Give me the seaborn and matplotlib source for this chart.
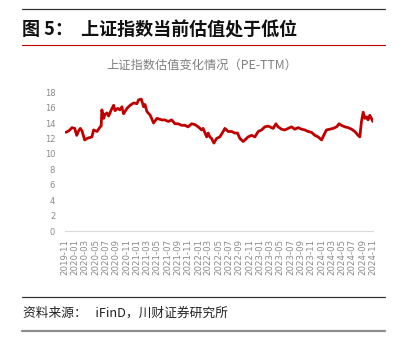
import matplotlib
matplotlib.use("Agg")
import matplotlib.pyplot as plt
import matplotlib.dates as mdates
from matplotlib.lines import Line2D
import pandas as pd
import seaborn as sns

# ---- data ----
dates = [
    "2019-11-07", "2019-11-25", "2019-12-13", "2019-12-29", "2020-01-10", "2020-01-19",
    "2020-01-31", "2020-02-10", "2020-02-26", "2020-03-11", "2020-03-25", "2020-04-09",
    "2020-04-19", "2020-05-09", "2020-05-28", "2020-06-03", "2020-06-07", "2020-06-18",
    "2020-06-25", "2020-07-07", "2020-07-17", "2020-08-02", "2020-08-16", "2020-08-24",
    "2020-09-09", "2020-09-22", "2020-10-04", "2020-10-14", "2020-11-03", "2020-11-22",
    "2020-12-13", "2021-01-01", "2021-01-11", "2021-01-27", "2021-02-10", "2021-02-18",
    "2021-03-01", "2021-03-21", "2021-04-10", "2021-04-30", "2021-05-29", "2021-06-16",
    "2021-07-06", "2021-07-26", "2021-08-15", "2021-09-03", "2021-09-23", "2021-10-13",
    "2021-11-01", "2021-11-22", "2021-12-11", "2021-12-31", "2022-01-20", "2022-01-29",
    "2022-02-19", "2022-02-28", "2022-03-10", "2022-03-20", "2022-04-03", "2022-04-19",
    "2022-05-08", "2022-05-28", "2022-06-07", "2022-06-27", "2022-07-17", "2022-08-05",
    "2022-08-21", "2022-09-04", "2022-09-24", "2022-10-04", "2022-10-23", "2022-11-13",
    "2022-12-02", "2022-12-22", "2023-01-11", "2023-01-30", "2023-02-19", "2023-03-01",
    "2023-03-21", "2023-04-06", "2023-04-19", "2023-05-09", "2023-05-29", "2023-06-18",
    "2023-07-08", "2023-07-27", "2023-08-16", "2023-09-05", "2023-09-25", "2023-10-14",
    "2023-11-03", "2023-11-23", "2023-12-13", "2024-01-02", "2024-01-15", "2024-01-31",
    "2024-02-20", "2024-03-11", "2024-03-31", "2024-04-15", "2024-04-29", "2024-05-19",
    "2024-06-08", "2024-06-28", "2024-07-17", "2024-08-06", "2024-08-16", "2024-08-26",
    "2024-09-05", "2024-09-15", "2024-09-25", "2024-10-04", "2024-10-14", "2024-10-24",
    "2024-11-01",
]
pe_ttm = [
    12.8, 13.0, 13.4, 13.3, 12.4, 12.9,
    13.3, 13.0, 11.8, 12.0, 12.1, 12.2,
    13.1, 12.9, 13.5, 13.6, 15.7, 14.6,
    15.1, 15.3, 14.9, 15.7, 16.3, 15.6,
    15.9, 15.7, 16.1, 15.2, 15.9, 16.3,
    16.6, 16.5, 17.0, 17.1, 16.1, 16.4,
    15.5, 15.0, 14.0, 14.6, 14.4, 14.4,
    14.2, 14.4, 13.9, 13.9, 13.7, 13.7,
    13.5, 13.9, 13.8, 13.5, 13.1, 13.3,
    12.2, 12.7, 12.2, 12.0, 11.4, 12.0,
    12.2, 12.9, 13.3, 12.9, 12.9, 12.7,
    12.7, 12.0, 11.6, 11.8, 12.2, 12.4,
    12.2, 12.9, 13.1, 13.5, 13.6, 13.5,
    13.3, 13.9, 13.5, 13.2, 13.1, 13.3,
    13.5, 13.2, 13.4, 13.2, 13.1, 12.9,
    12.8, 12.4, 12.2, 11.8, 12.4, 13.1,
    13.2, 13.3, 13.5, 13.9, 13.7, 13.5,
    13.4, 13.2, 12.9, 12.4, 12.2, 14.2,
    15.4, 14.6, 14.8, 14.4, 15.0, 14.6,
    14.2,
]
y_ticks = [0, 2, 4, 6, 8, 10, 12, 14, 16, 18]
x_start = "2019-11-01"
x_end = "2024-11-01"

fig_title = "图 5：  上证指数当前估值处于低位"
chart_title = "上证指数估值变化情况（PE-TTM）"
source_text = "资料来源：   iFinD，川财证券研究所"

# ---- style ----
sns.set_style("white")
plt.rcParams["font.family"] = ["Noto Sans CJK SC", "DejaVu Sans"]

df = pd.DataFrame({"date": pd.to_datetime(dates), "pe": pe_ttm})

fig = plt.figure(figsize=(4.06, 3.49), dpi=100)
ax = fig.add_axes([0.160, 0.338, 0.759, 0.398])

sns.lineplot(data=df, x="date", y="pe", ax=ax, color="#c00000", linewidth=2.0)

ax.set_xlim(pd.Timestamp(x_start), pd.Timestamp("2024-11-03"))
ax.set_ylim(y_ticks[0], y_ticks[-1])
ax.set_yticks(y_ticks)
ax.set_yticklabels([str(v) for v in y_ticks])

major = pd.date_range(x_start, x_end, freq="2MS")
ax.set_xticks(major)
ax.set_xticklabels([d.strftime("%Y-%m") for d in major], rotation=90)
ax.xaxis.set_minor_locator(mdates.MonthLocator())

ax.set_xlabel("")
ax.set_ylabel("")
for s in ["top", "right", "left"]:
    ax.spines[s].set_visible(False)
ax.spines["bottom"].set_color("#d9d9d9")
ax.spines["bottom"].set_linewidth(0.8)

ax.tick_params(axis="x", which="both", direction="out", length=2.5, width=0.6,
               color="#d9d9d9", labelsize=6.2, labelcolor="#8a8a8a", pad=3)
ax.tick_params(axis="y", length=0, labelsize=6.0, labelcolor="#8a8a8a", pad=7)
for lab in ax.get_xticklabels():
    lab.set_fontfamily(["DejaVu Sans"])
for lab in ax.get_yticklabels():
    lab.set_fontfamily(["DejaVu Sans"])

# ---- texts and decorative rules ----
W, H = 406.0, 349.0
def fx(px):
    return px / W
def fy(py):
    return 1 - py / H

fig.add_artist(Line2D([fx(22), fx(385)], [fy(9), fy(9)], color="#333333", linewidth=0.9))
fig.add_artist(Line2D([fx(22), fx(385)], [fy(45), fy(45)], color="#c00000", linewidth=0.8))
fig.add_artist(Line2D([fx(22), fx(385)], [fy(297), fy(297)], color="#333333", linewidth=0.9))
fig.add_artist(Line2D([fx(22), fx(385)], [fy(331), fy(331)], color="#8c8c8c", linewidth=1.6))

fig.text(fx(22), fy(30), fig_title, fontsize=13, fontweight="bold", color="#111111",
         ha="left", va="center")
fig.text(fx(202), fy(65), chart_title, fontsize=8.8, color="#7f7f7f",
         ha="center", va="center")
fig.text(fx(23), fy(313), source_text, fontsize=9.2, color="#222222",
         ha="left", va="center", style="italic")

fig.savefig("out.png", dpi=100)
